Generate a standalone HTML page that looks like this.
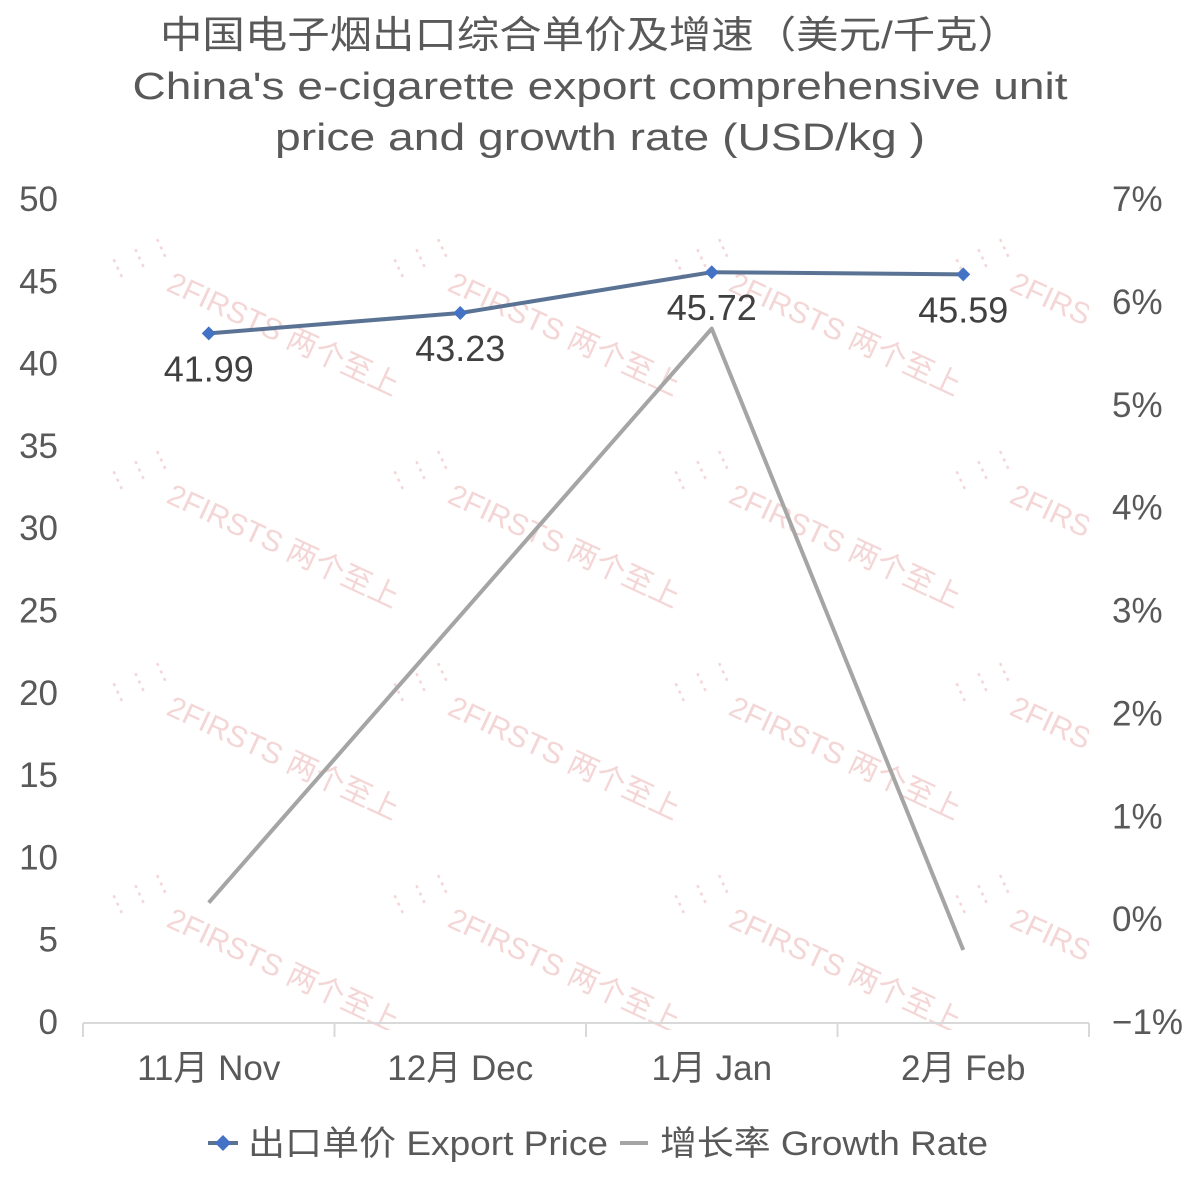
<!DOCTYPE html>
<html><head><meta charset="utf-8"><style>
html,body{margin:0;padding:0;background:#fff;}
svg{display:block;font-family:"Liberation Sans","Noto Sans CJK SC",sans-serif;}
</style></head><body>
<svg id="c" width="1200" height="1190" viewBox="0 0 1200 1190">
<defs><clipPath id="pc"><rect x="83" y="180" width="1006" height="850"/></clipPath></defs>
<g fill="#595959" font-size="38" text-anchor="middle">
<text x="590" y="48" textLength="860" lengthAdjust="spacingAndGlyphs">中国电子烟出口综合单价及增速（美元/千克）</text>
<text x="600" y="99" textLength="935" lengthAdjust="spacingAndGlyphs">China's e-cigarette export comprehensive unit</text>
<text x="600" y="150" textLength="650" lengthAdjust="spacingAndGlyphs">price and growth rate (USD/kg )</text>
</g>
<g id="wm" clip-path="url(#pc)" opacity="0.75"></g>
<g id="axes"></g>
<g id="series"></g>
<g font-size="34" fill="#595959">
<line x1="208" y1="1143" x2="238" y2="1143" stroke="#5a7394" stroke-width="4"/>
<path d="M223 1135 L231 1143 L223 1151 L215 1143Z" fill="#4472c4"/>
<text x="248" y="1155" textLength="360" lengthAdjust="spacingAndGlyphs">出口单价 Export Price</text>
<line x1="620" y1="1143" x2="648" y2="1143" stroke="#a5a5a5" stroke-width="4"/>
<text x="660" y="1155" textLength="328" lengthAdjust="spacingAndGlyphs">增长率 Growth Rate</text>
</g>
</svg>
<script>
const categories=["11月 Nov","12月 Dec","1月 Jan","2月 Feb"];
const priceValues=[41.99,43.23,45.72,45.59];
const growthValues=[0.16,2.95,5.74,-0.30];
const leftTicks=[0,5,10,15,20,25,30,35,40,45,50];
const rightTicks=[-1,0,1,2,3,4,5,6,7];
const NS="http://www.w3.org/2000/svg";
const X0=83,X1=1089,Y0=1022,Y1=199,YL1=202;
const yL=v=>Y0-(v-0)/50*(Y0-YL1);
const yR=v=>Y0-(v+1)/8*(Y0-Y1);
const yLt=v=>Y0-(v-0)/50*(Y0-Y1);
const band=(X1-X0)/categories.length;
const xC=i=>X0+band*(i+0.5);
function mk(tag,attrs,parent,text){const e=document.createElementNS(NS,tag);for(const k in attrs)e.setAttribute(k,attrs[k]);if(text!==undefined)e.textContent=text;parent.appendChild(e);return e;}
const axes=document.getElementById('axes'),ser=document.getElementById('series'),wm=document.getElementById('wm');
for(let r=0;r<4;r++)for(let c=0;c<4;c++){
  const x=165+c*281,y=290+r*212;
  const t=mk('text',{x:x,y:y,'font-size':'30',fill:'#f0c8c8',transform:`rotate(25 ${x} ${y})`},wm,'2FIRSTS 两个至上');
  
  
  const l=mk('text',{x:x-55,y:y-10,'font-size':'24',fill:'#f0c8c8',transform:`rotate(-25 ${x-55} ${y-10})`},wm,'⋮⋮⋮');
  
  
}
const ax=mk('line',{x1:X0,y1:Y0+1,x2:X1,y2:Y0+1,stroke:'#d9d9d9','stroke-width':2},axes);


for(let i=0;i<=categories.length;i++){mk('line',{x1:X0+band*i,y1:Y0+1,x2:X0+band*i,y2:Y0+15,stroke:'#d9d9d9','stroke-width':2},axes);}
categories.forEach((c,i)=>{const t=mk('text',{x:xC(i),y:1080,'font-size':'35',fill:'#595959','text-anchor':'middle'},axes,c);

});
leftTicks.forEach(v=>{const t=mk('text',{x:58,y:yLt(v)+12,'font-size':'35',fill:'#595959','text-anchor':'end'},axes,String(v));

});
rightTicks.forEach(v=>{const t=mk('text',{x:1112,y:yR(v)+12,'font-size':'35',fill:'#595959'},axes,(v<0?'−'+(-v):v)+'%');

});
const gl=mk('polyline',{points:growthValues.map((v,i)=>xC(i)+','+yR(v)).join(' '),fill:'none',stroke:'#a5a5a5','stroke-width':4,'stroke-linejoin':'round'},ser);


const pl=mk('polyline',{points:priceValues.map((v,i)=>xC(i)+','+yL(v)).join(' '),fill:'none',stroke:'#5a7394','stroke-width':4,'stroke-linejoin':'round'},ser);


priceValues.forEach((v,i)=>{const x=xC(i),y=yL(v);
const m=mk('path',{d:`M${x} ${y-7}L${x+7} ${y}L${x} ${y+7}L${x-7} ${y}Z`,fill:'#4472c4'},ser);


const t=mk('text',{x:x,y:y+48,'font-size':'36',fill:'#404040','text-anchor':'middle'},ser,v.toFixed(2));

});
</script>
</body></html>
